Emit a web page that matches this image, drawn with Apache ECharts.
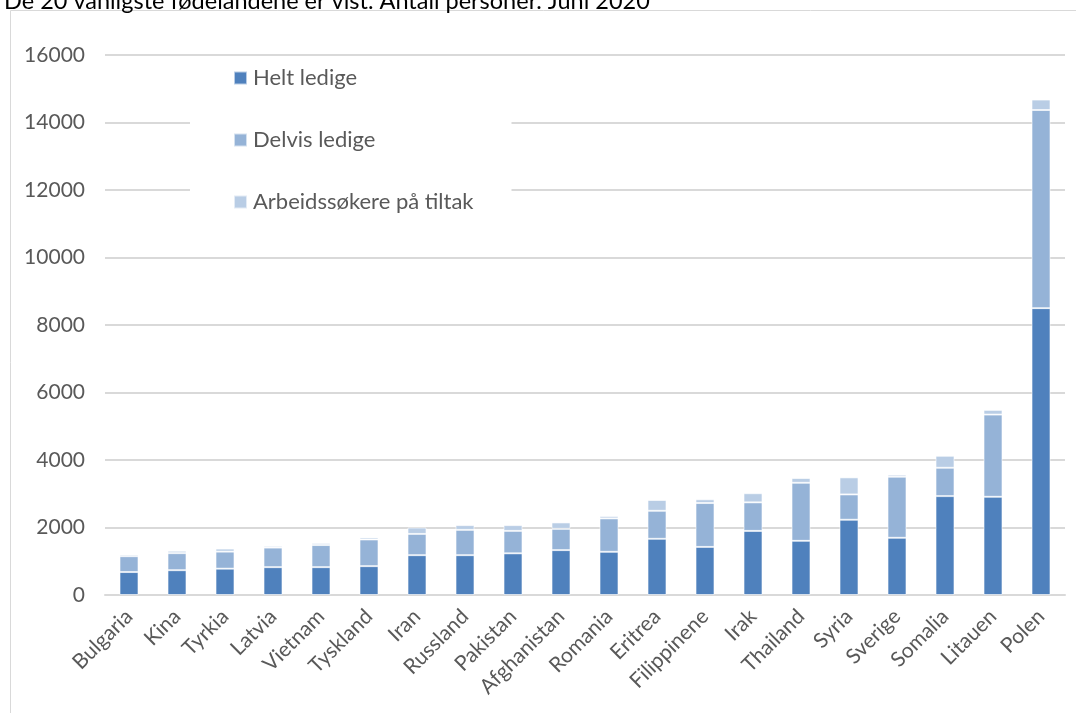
<!DOCTYPE html>
<html><head><meta charset="utf-8">
<script src="https://cdn.jsdelivr.net/npm/echarts@6/dist/echarts.min.js"></script>
<style>html,body{margin:0;padding:0;background:#fff}#c{width:1076px;height:713px}</style>
</head><body><div id="c"></div>
<script>
const categories = ["Bulgaria","Kina","Tyrkia","Latvia","Vietnam","Tyskland","Iran","Russland","Pakistan","Afghanistan","Romania","Eritrea","Filippinene","Irak","Thailand","Syria","Sverige","Somalia","Litauen","Polen"];
const heltLedige = [680,735,780,825,825,855,1180,1180,1235,1330,1280,1665,1425,1900,1605,2230,1695,2930,2910,8500];
const delvisLedige = [470,505,505,580,655,790,630,750,665,630,990,830,1300,845,1720,750,1810,840,2435,5870];
const tiltak = [50,70,90,50,60,60,190,140,170,190,70,320,110,270,140,505,60,355,140,310];
const seriesNames = ["Helt ledige","Delvis ledige","Arbeidssøkere på tiltak"];
const colors = ["#4F81BD","#95B3D7","#B9CDE5"];
const titleText = "De 20 vanligste fødelandene er vist. Antall personer. Juni 2020";

const font = "Lato, 'Noto Sans', sans-serif";
const chart = echarts.init(document.getElementById('c'));
const mk = (name, data, i) => ({
  name, type: 'bar', stack: 'a', data, barWidth: 19,
  itemStyle: {color: colors[i], borderColor: 'rgba(255,255,255,0.6)', borderWidth: 1},
  emphasis: {disabled: true}
});
chart.setOption({
  animation: false,
  textStyle: {fontFamily: font},
  title: {text: titleText, left: -1, top: -16, textStyle: {fontFamily: font, fontSize: 23.5, fontWeight: 'normal', color: '#000'}},
  graphic: [{type: 'rect', shape: {x: 10.5, y: 10.5, width: 1100, height: 800}, style: {fill: 'none', stroke: '#d9d9d9', lineWidth: 1}, z: -1}],
  legend: {
    orient: 'vertical', left: 190, top: 59, itemGap: 40, itemWidth: 13, itemHeight: 13,
    padding: [8, 38, 8, 43], backgroundColor: '#fff',
    data: seriesNames,
    textStyle: {fontFamily: font, fontSize: 22, color: '#595959', padding: [0, 0, 0, 1]},
    icon: 'rect'
  },
  grid: {left: 105, right: 11, top: 55, bottom: 118},
  xAxis: {
    type: 'category', data: categories,
    axisLine: {lineStyle: {color: '#d9d9d9', width: 2}},
    axisTick: {show: false},
    axisLabel: {rotate: 45, interval: 0, fontSize: 21, color: '#595959', fontFamily: font, margin: 18}
  },
  yAxis: {
    type: 'value', min: 0, max: 16000, interval: 2000,
    axisLine: {show: false}, axisTick: {show: false},
    splitLine: {lineStyle: {color: '#d9d9d9', width: 2}},
    axisLabel: {fontSize: 21, color: '#595959', fontFamily: font, margin: 20, formatter: v => String(v)}
  },
  series: [mk(seriesNames[0], heltLedige, 0), mk(seriesNames[1], delvisLedige, 1), mk(seriesNames[2], tiltak, 2)]
});
</script></body></html>
